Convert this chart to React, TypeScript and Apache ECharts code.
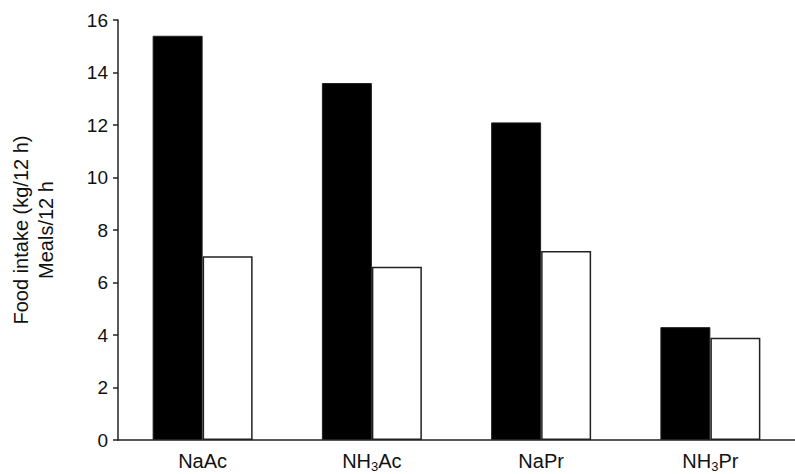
import React, { useEffect, useRef } from "react";
import * as echarts from "echarts";

const categories = ["NaAc", "NH3Ac", "NaPr", "NH3Pr"];
const foodIntake = [15.4, 13.6, 12.1, 4.3];
const meals = [7.0, 6.6, 7.2, 3.9];
const yTicks = { min: 0, max: 16, interval: 2 };
const yAxisName = "Food intake (kg/12 h)\nMeals/12 h";

const FONT = "Liberation Sans, Arial, Helvetica, sans-serif";

export default function App() {
  const ref = useRef<HTMLDivElement>(null);
  useEffect(() => {
    if (!ref.current) return;
    const chart = echarts.init(ref.current, undefined, { renderer: "svg" });
    chart.setOption({
      animation: false,
      backgroundColor: "#fff",
      grid: { left: 118, right: 0, top: 20, bottom: 34, containLabel: false },
      xAxis: {
        type: "category",
        data: categories,
        axisLine: { lineStyle: { color: "#222", width: 1.5 } },
        axisTick: { show: false },
        axisLabel: {
          margin: 11,
          color: "#111",
          fontSize: 20,
          lineHeight: 20,
          fontFamily: FONT,
          formatter: (v: string) => v.replace(/NH3/, "NH{sub|3}"),
          rich: {
            sub: { fontSize: 13, lineHeight: 13, fontFamily: FONT, color: "#111", verticalAlign: "top", padding: [9, 0, 0, 0] },
          },
        },
      },
      yAxis: {
        type: "value",
        min: yTicks.min,
        max: yTicks.max,
        interval: yTicks.interval,
        name: yAxisName,
        nameLocation: "middle",
        nameGap: 60,
        nameRotate: 90,
        nameTextStyle: { fontSize: 20, fontFamily: FONT, color: "#111", lineHeight: 25 },
        axisLine: { show: true, lineStyle: { color: "#222", width: 1.5 } },
        axisTick: { show: true, length: 5, lineStyle: { color: "#222", width: 1.5 } },
        splitLine: { show: false },
        axisLabel: { margin: 10, color: "#111", fontSize: 19, fontFamily: FONT },
      },
      series: [
        {
          type: "bar",
          data: foodIntake,
          barWidth: 50,
          barGap: "0%",
          itemStyle: { color: "#000", borderColor: "#222", borderWidth: 1 },
        },
        {
          type: "bar",
          data: meals,
          barWidth: 50,
          itemStyle: { color: "#fff", borderColor: "#222", borderWidth: 1.5 },
        },
      ],
    });
    return () => chart.dispose();
  }, []);
  return <div ref={ref} style={{ position: "absolute", left: 0, top: 0, width: 795, height: 474 }} />;
}
